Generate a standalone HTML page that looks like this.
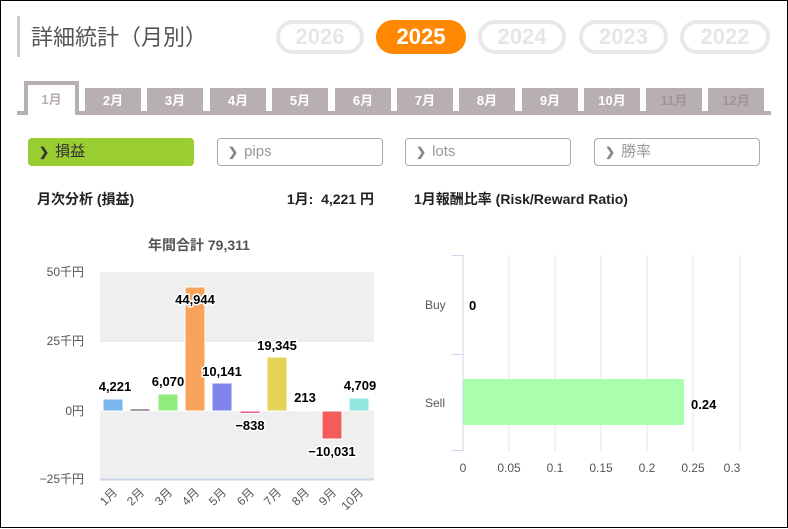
<!DOCTYPE html>
<html><head><meta charset="utf-8"><style>
*{margin:0;padding:0;box-sizing:border-box}
body{width:788px;height:528px;position:relative;background:#fff;font-family:"Liberation Sans","Noto Sans CJK JP",sans-serif;overflow:hidden;border:1px solid #000}
.a{position:absolute}
.yr{position:absolute;top:19px;height:34px;border:4px solid #e8e8e8;border-radius:17px;color:#e6e6e6;font-weight:bold;font-size:22px;text-align:center;line-height:26px}
.tab{position:absolute;top:87px;width:56px;height:26px;background:#b8b0b0;color:#fff;font-weight:bold;font-size:13px;text-align:center;line-height:26px}
.btn{position:absolute;top:137px;width:166px;height:28px;border:1px solid #aaa;border-radius:4px;font-size:15px;color:#999;line-height:26px;padding-left:10px}
.btn b{font-size:12px;margin-right:6px;color:#888}
.t{font-size:14px;font-weight:bold;color:#222}
</style></head><body>
<div class="a" style="left:16px;top:15px;width:3px;height:41px;background:#ccc"></div>
<div class="a" style="left:30px;top:19px;font-size:22px;color:#555">詳細統計（月別）</div>
<div class="yr" style="left:275px;width:88px">2026</div>
<div class="yr" style="left:375px;width:90px;background:#ff8800;border-color:#ff8800;color:#fff">2025</div>
<div class="yr" style="left:477px;width:88px">2024</div>
<div class="yr" style="left:578px;width:89px">2023</div>
<div class="yr" style="left:679px;width:90px">2022</div>
<div class="a" style="left:16px;top:110px;width:754px;height:4px;background:#b8b0b0"></div>
<div class="a" style="left:23px;top:80px;width:55px;height:34px;border:4px solid #b8b0b0;border-bottom:none;background:#fff;color:#b8b0b0;font-weight:bold;font-size:13px;text-align:center;line-height:30px">1月</div>
<div class="tab" style="left:84px">2月</div>
<div class="tab" style="left:146px">3月</div>
<div class="tab" style="left:209px">4月</div>
<div class="tab" style="left:271px">5月</div>
<div class="tab" style="left:334px">6月</div>
<div class="tab" style="left:396px">7月</div>
<div class="tab" style="left:458px">8月</div>
<div class="tab" style="left:521px">9月</div>
<div class="tab" style="left:583px">10月</div>
<div class="tab" style="left:645px;color:#9e9696">11月</div>
<div class="tab" style="left:707px;color:#9e9696">12月</div>
<div class="btn" style="left:27px;background:#9acd32;border-color:#9acd32;color:#333"><b style="color:#333">❯</b>損益</div>
<div class="btn" style="left:216px"><b>❯</b>pips</div>
<div class="btn" style="left:404px"><b>❯</b>lots</div>
<div class="btn" style="left:593px"><b>❯</b>勝率</div>
<div class="a t" style="left:36px;top:188px">月次分析 (損益)</div>
<div class="a t" style="left:200px;width:173px;text-align:right;top:188px">1月:&nbsp; 4,221 円</div>
<div class="a t" style="left:413px;top:188px">1月報酬比率 (Risk/Reward Ratio)</div>
<div class="a" style="left:147px;top:234px;font-size:14px;font-weight:bold;color:#555">年間合計 79,311</div>
<svg class="a" style="left:0;top:0" width="788" height="528">
<rect x="99" y="271" width="274" height="69" fill="#efefef"/>
<rect x="99" y="410" width="274" height="68" fill="#efefef"/>
<line x1="99" y1="340" x2="373" y2="340" stroke="#e0e0e0"/>
<line x1="99" y1="478.5" x2="373" y2="478.5" stroke="#ccd6eb" stroke-width="2"/>
<g font-size="12" fill="#555" text-anchor="end" font-family="Liberation Sans,Noto Sans CJK JP,sans-serif">
<text x="83" y="275">50千円</text><text x="83" y="344">25千円</text><text x="83" y="414">0円</text><text x="83" y="482">−25千円</text></g>
<g stroke="#fff" stroke-width="1">
<rect x="102" y="398" width="20" height="12" fill="#7cb5ec"/>
<rect x="129" y="408" width="20" height="2" fill="#434348"/>
<rect x="157" y="393" width="20" height="17" fill="#90ed7d"/>
<rect x="184" y="286" width="20" height="124" fill="#f7a35c"/>
<rect x="211" y="382" width="20" height="28" fill="#8085e9"/>
<rect x="239" y="410" width="20" height="2.5" fill="#f15c80"/>
<rect x="266" y="356" width="20" height="54" fill="#e4d354"/>
<rect x="294" y="409" width="20" height="1" fill="#2b908f"/>
<rect x="321" y="410" width="20" height="28" fill="#f45b5b"/>
<rect x="348" y="397" width="20" height="13" fill="#91e8e1"/></g>
<g font-size="13" font-weight="bold" fill="#000" text-anchor="middle" font-family="Liberation Sans,sans-serif" stroke="#fff" stroke-width="3" paint-order="stroke">
<text x="114" y="390">4,221</text><text x="167" y="385">6,070</text><text x="194" y="303">44,944</text>
<text x="221" y="375">10,141</text><text x="249" y="429">−838</text><text x="276" y="349">19,345</text>
<text x="304" y="401">213</text><text x="331" y="455">−10,031</text><text x="359" y="389">4,709</text></g>
<g font-size="12" fill="#555" font-family="Liberation Sans,Noto Sans CJK JP,sans-serif" text-anchor="end">
<text transform="translate(117,492) rotate(-45)">1月</text><text transform="translate(144,492) rotate(-45)">2月</text>
<text transform="translate(172,492) rotate(-45)">3月</text><text transform="translate(199,492) rotate(-45)">4月</text>
<text transform="translate(226,492) rotate(-45)">5月</text><text transform="translate(254,492) rotate(-45)">6月</text>
<text transform="translate(281,492) rotate(-45)">7月</text><text transform="translate(309,492) rotate(-45)">8月</text>
<text transform="translate(336,492) rotate(-45)">9月</text><text transform="translate(363,492) rotate(-45)">10月</text></g>
<g stroke="#e6e6e6"><line x1="508" y1="254" x2="508" y2="450"/><line x1="554" y1="254" x2="554" y2="450"/><line x1="600" y1="254" x2="600" y2="450"/><line x1="646" y1="254" x2="646" y2="450"/><line x1="692" y1="254" x2="692" y2="450"/><line x1="739" y1="254" x2="739" y2="450"/></g>
<rect x="462" y="378" width="221" height="46" fill="#aaffaa"/>
<g stroke="#ccd6eb"><line x1="462" y1="254" x2="462" y2="450"/><line x1="451" y1="254.5" x2="462" y2="254.5"/><line x1="451" y1="353.5" x2="462" y2="353.5"/><line x1="451" y1="449.5" x2="462" y2="449.5"/></g>
<g font-size="12" fill="#555" font-family="Liberation Sans,sans-serif"><text x="424" y="308">Buy</text><text x="424" y="406">Sell</text>
<g text-anchor="middle"><text x="462" y="471">0</text><text x="508" y="471">0.05</text><text x="554" y="471">0.1</text><text x="600" y="471">0.15</text><text x="646" y="471">0.2</text><text x="692" y="471">0.25</text><text x="731" y="471">0.3</text></g></g>
<g font-size="13" font-weight="bold" fill="#000" font-family="Liberation Sans,sans-serif"><text x="468" y="309">0</text><text x="690" y="408">0.24</text></g>
</svg>
</body></html>
